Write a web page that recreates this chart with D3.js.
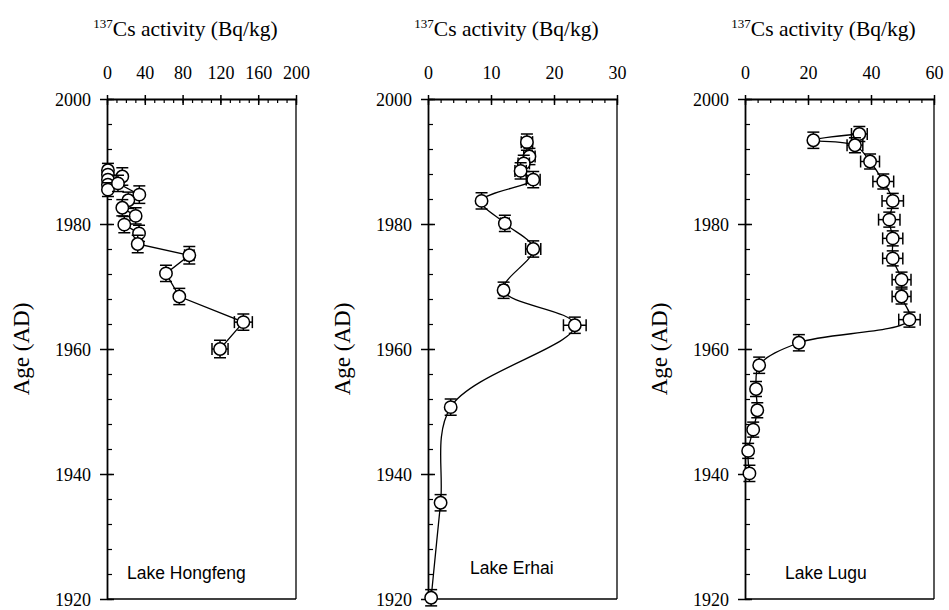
<!DOCTYPE html>
<html>
<head>
<meta charset="utf-8">
<script src="https://cdn.jsdelivr.net/npm/d3@7"></script>
<style>
  body { margin: 0; background: #fff; }
  svg { display: block; }
</style>
</head>
<body>
<div id="chart"></div>
<script>
// ---- data ----
// Lake Hongfeng
const hongfengCs   = [1.0, 1.0, 1.0, 1.0, 1.0, 16.2, 11.6, 34.2, 22.6, 16.2, 30.3, 18.3, 33.9, 32.5, 87.1, 62.4, 76.5, 144.3, 119.6];
const hongfengAge  = [1988.6, 1987.9, 1987.1, 1986.3, 1985.5, 1987.6, 1986.5, 1984.7, 1983.8, 1982.6, 1981.3, 1979.9, 1978.5, 1976.8, 1975.0, 1972.1, 1968.4, 1964.3, 1960.0];
const hongfengCsErr  = [0, 0, 0, 0, 0, 0, 0, 0, 0, 0, 0, 0, 0, 0, 5, 0, 0, 9.5, 8.5];
const hongfengAgeErr = [1.1, 0, 0, 0, 1.1, 1.4, 1.3, 1.4, 1.3, 1.3, 1.3, 1.3, 1.3, 1.4, 1.4, 1.3, 1.3, 1.3, 1.4];

// Lake Erhai
const erhaiCs   = [15.7, 16.1, 15.2, 14.7, 16.7, 8.5, 12.2, 16.7, 12.0, 23.3, 3.6, 2.0, 0.5];
const erhaiAge  = [1993.1, 1990.8, 1989.7, 1988.5, 1987.1, 1983.7, 1980.1, 1976.0, 1969.4, 1963.8, 1950.7, 1935.4, 1920.2];
const erhaiCsErr  = [0.9, 0.9, 0.9, 0.9, 1.1, 0, 0.7, 1.2, 0.6, 1.8, 0, 0, 0];
const erhaiAgeErr = [1.3, 1.3, 1.3, 1.3, 1.3, 1.3, 1.3, 1.3, 1.3, 1.3, 1.3, 1.3, 1.3];

// Lake Lugu
const luguCs   = [36.3, 21.7, 34.9, 39.7, 43.9, 46.9, 45.8, 46.9, 46.9, 49.7, 49.7, 52.2, 17.1, 4.5, 3.5, 3.9, 2.6, 1.0, 1.4];
const luguAge  = [1994.4, 1993.4, 1992.6, 1990.0, 1986.8, 1983.7, 1980.7, 1977.7, 1974.5, 1971.1, 1968.4, 1964.7, 1961.0, 1957.4, 1953.6, 1950.2, 1947.1, 1943.7, 1940.1];
const luguCsErr  = [2.5, 0, 2.5, 3.0, 3.3, 3.4, 3.4, 3.2, 3.2, 3.0, 3.0, 3.4, 0, 0, 0, 0, 0, 0, 0];
const luguAgeErr = [1.2, 1.3, 1.2, 1.2, 1.2, 1.2, 1.2, 1.2, 1.2, 1.2, 1.2, 1.2, 1.3, 1.3, 1.2, 1.2, 1.2, 1.2, 1.3];

const lakeNames = ['Lake Hongfeng', 'Lake Erhai', 'Lake Lugu'];
const xMaxes    = [200, 30, 60];
const xMajor    = [40, 10, 20];
const xMinor    = [10, 2, 4];
const yTicks    = [1920, 1940, 1960, 1980, 2000];

// ---- layout ----
const config = {
  width: 949, height: 610,
  panelLefts: [107, 428, 745],
  panelWidth: 189,
  top: 99, bottom: 599,
  markRadius: 6.2,
  capHalf: 6,
  labelPos: [{dx: 20, dy: 579}, {dx: 42, dy: 574}, {dx: 40, dy: 579}],
  curves: [d3.curveLinear, d3.curveCatmullRom.alpha(0.5), d3.curveCatmullRom.alpha(0.5)]
};

const panels = [
  {cs: hongfengCs, age: hongfengAge, csErr: hongfengCsErr, ageErr: hongfengAgeErr},
  {cs: erhaiCs, age: erhaiAge, csErr: erhaiCsErr, ageErr: erhaiAgeErr},
  {cs: luguCs, age: luguAge, csErr: luguCsErr, ageErr: luguAgeErr}
];

const svg = d3.select('#chart').append('svg')
  .attr('width', config.width)
  .attr('height', config.height);

const serif = '"Liberation Serif", "Times New Roman", serif';

const yScale = d3.scaleLinear()
  .domain([1920, 2000])
  .range([config.bottom, config.top]);

// axis labels in Times-like serif
const styleTickText = a => a.selectAll('.tick text')
  .attr('font-family', serif)
  .attr('font-size', 18)
  .attr('fill', '#000');

panels.forEach((p, i) => {
  const left = config.panelLefts[i];
  const right = left + config.panelWidth;

  const xScale = d3.scaleLinear()
    .domain([0, xMaxes[i]])
    .range([left, right]);

  const g = svg.append('g').attr('class', 'panel');

  // box: right and bottom edges
  g.append('line')
    .attr('x1', right).attr('x2', right)
    .attr('y1', config.top).attr('y2', config.bottom)
    .attr('stroke', '#000').attr('stroke-width', 1.3);
  g.append('line')
    .attr('x1', left).attr('x2', right)
    .attr('y1', config.bottom).attr('y2', config.bottom)
    .attr('stroke', '#000').attr('stroke-width', 1.3);

  // ---- x axis (top) ----
  const minorX = d3.range(0, xMaxes[i] + 1e-9, xMinor[i]);
  const majorX = d3.range(0, xMaxes[i] + 1e-9, xMajor[i]);

  g.append('g')
    .attr('transform', `translate(0,${config.top})`)
    .call(d3.axisTop(xScale).tickValues(minorX).tickSize(-4).tickFormat(''))
    .call(a => a.select('.domain').remove())
    .call(a => a.selectAll('.tick line').attr('stroke-width', 1.2));

  g.append('g')
    .attr('transform', `translate(0,${config.top})`)
    .call(d3.axisTop(xScale).tickValues(majorX).tickSizeOuter(0).tickPadding(14).tickFormat(d3.format('d')))
    .call(a => a.select('.domain').attr('stroke-width', 1.8))
    .call(a => a.selectAll('.tick line').attr('y1', -4).attr('y2', 6).attr('stroke-width', 1.5))
    .call(styleTickText);

  // ---- y axis (left) ----
  const minorY = d3.range(1920, 2000 + 1e-9, 4);
  g.append('g')
    .attr('transform', `translate(${left},0)`)
    .call(d3.axisLeft(yScale).tickValues(minorY).tickSize(-5).tickFormat(''))
    .call(a => a.select('.domain').remove())
    .call(a => a.selectAll('.tick line').attr('stroke-width', 1.2));

  g.append('g')
    .attr('transform', `translate(${left},0)`)
    .call(d3.axisLeft(yScale).tickValues(yTicks).tickSizeOuter(0).tickPadding(10).tickFormat(d3.format('d')))
    .call(a => a.select('.domain').attr('stroke-width', 1.8))
    .call(a => a.selectAll('.tick line').attr('x1', -7).attr('x2', 7).attr('stroke-width', 1.5))
    .call(styleTickText)
    .call(a => a.selectAll('.tick text').attr('dy', '0.35em'));

  // ---- titles ----
  const title = g.append('text')
    .attr('x', (left + right) / 2 - 16)
    .attr('y', 36)
    .attr('text-anchor', 'middle')
    .attr('font-family', serif)
    .attr('font-size', 21.5)
    .attr('fill', '#000');
  title.append('tspan').attr('font-size', 13).attr('dy', -8).text('137');
  title.append('tspan').attr('dy', 8).text('Cs activity (Bq/kg)');

  g.append('text')
    .attr('transform', `translate(${left - 78},${(config.top + config.bottom) / 2}) rotate(-90)`)
    .attr('text-anchor', 'middle')
    .attr('font-family', serif)
    .attr('font-size', 23)
    .text('Age (AD)');

  g.append('text')
    .attr('x', left + config.labelPos[i].dx)
    .attr('y', config.labelPos[i].dy)
    .attr('font-family', '"Liberation Sans", Arial, sans-serif')
    .attr('font-size', 17.5)
    .text(lakeNames[i]);

  // ---- data ----
  const pts = p.cs.map((v, k) => ({cs: v, age: p.age[k], csErr: p.csErr[k], ageErr: p.ageErr[k]}));

  const line = d3.line()
    .x(d => xScale(d.cs))
    .y(d => yScale(d.age))
    .curve(config.curves[i]);

  g.append('path')
    .datum(pts)
    .attr('d', line)
    .attr('fill', 'none')
    .attr('stroke', '#000')
    .attr('stroke-width', 1.3);

  const marks = g.selectAll('.mark')
    .data(pts)
    .join('g')
    .attr('class', 'mark');

  // vertical error bars
  marks.filter(d => d.ageErr > 0).each(function(d) {
    const m = d3.select(this);
    const x = xScale(d.cs);
    const y0 = yScale(d.age + d.ageErr);
    const y1 = yScale(d.age - d.ageErr);
    m.append('line').attr('x1', x).attr('x2', x).attr('y1', y0).attr('y2', y1);
    m.append('line').attr('x1', x - config.capHalf).attr('x2', x + config.capHalf).attr('y1', y0).attr('y2', y0);
    m.append('line').attr('x1', x - config.capHalf).attr('x2', x + config.capHalf).attr('y1', y1).attr('y2', y1);
  });

  // horizontal error bars
  marks.filter(d => d.csErr > 0).each(function(d) {
    const m = d3.select(this);
    const y = yScale(d.age);
    const x0 = xScale(d.cs - d.csErr);
    const x1 = xScale(d.cs + d.csErr);
    m.append('line').attr('x1', x0).attr('x2', x1).attr('y1', y).attr('y2', y);
    m.append('line').attr('x1', x0).attr('x2', x0).attr('y1', y - config.capHalf).attr('y2', y + config.capHalf);
    m.append('line').attr('x1', x1).attr('x2', x1).attr('y1', y - config.capHalf).attr('y2', y + config.capHalf);
  });

  marks.selectAll('line')
    .attr('stroke', '#000')
    .attr('stroke-width', 1.5);

  marks.append('circle')
    .attr('cx', d => xScale(d.cs))
    .attr('cy', d => yScale(d.age))
    .attr('r', config.markRadius)
    .attr('fill', '#fff')
    .attr('stroke', '#000')
    .attr('stroke-width', 1.5);
});
</script>
</body>
</html>
